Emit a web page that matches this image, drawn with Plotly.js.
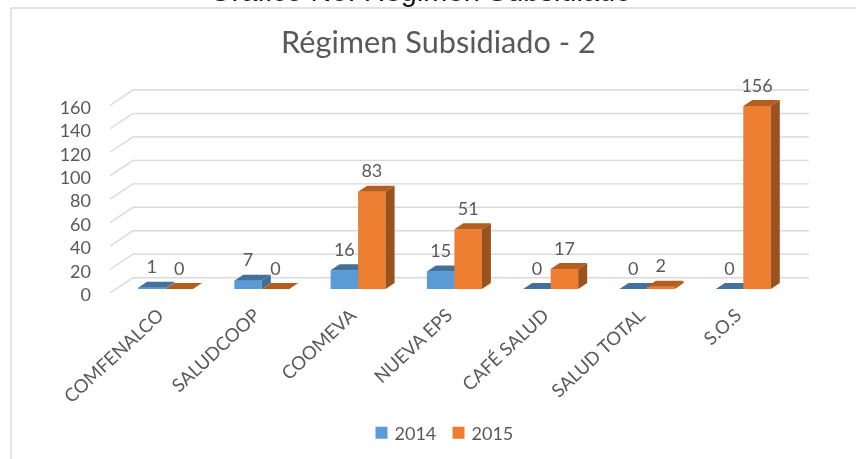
<!DOCTYPE html>
<html>
<head>
<meta charset="utf-8">
<script src="https://cdn.plot.ly/plotly-3.0.1.min.js"></script>
<style>html,body{margin:0;padding:0;background:#fff;overflow:hidden}#chart{width:856px;height:459px;filter:blur(0.4px)}</style>
</head>
<body>
<div id="chart"></div>
<script>
var categories = ['COMFENALCO','SALUDCOOP','COOMEVA','NUEVA EPS','CAFÉ SALUD','SALUD TOTAL','S.O.S'];
var values2014 = [1,7,16,15,0,0,0];
var values2015 = [0,0,83,51,17,2,156];
var yTicks = [0,20,40,60,80,100,120,140,160];
var chartTitle = 'Régimen Subsidiado - 2';
var pageHeading = 'Gráfico No. Régimen Subsidiado';

// Geometry of the faux-3D projection, in axis units
var pxX = 96.3, pxY = 1.173;
var W = 856, H = 459, mL = 110, mR = 47, mT = 85, mB = 164;
var xRange = [(mL-165.5)/pxX, (W-mR-165.5)/pxX];
var yRange = [-(H-mB-293)/pxY, (293-mT)/pxY];
var barW = 27.5/pxX, floor = 4/pxY;
var dX = 9/pxX, dY = 6/pxY;
var wallX = 23/pxX, wallY = 15.3/pxY;
var labelGap = 19/pxY;

var idx = categories.map(function(_,i){return i;});
var blue='#5b9bd5', blueTop='#41719c', blueSide='#3f6e97';
var orange='#ed7d31', orangeTop='#b55d1f', orangeSide='#9c521d';
var textC='#595959', font='Lato, "Open Sans", sans-serif';

function faces(vals, off, kind){
  var xs=[], ys=[];
  vals.forEach(function(v,i){
    var x0=i+off, x1=x0+barW, t=floor+v;
    if(kind==='side'){
      xs.push(x1,x1+dX,x1+dX,x1,x1,null);
      ys.push(floor,floor+dY,t+dY,t,floor,null);
    }else{
      xs.push(x0,x1,x1+dX,x0+dX,x0,null);
      ys.push(t,t,t+dY,t+dY,t,null);
    }
  });
  return {x:xs,y:ys};
}
function faceTrace(vals,off,kind,col,xa,ya){
  var f=faces(vals,off,kind);
  return {type:'scatter',mode:'lines',x:f.x,y:f.y,fill:'toself',fillcolor:col,
    line:{width:0,color:col},hoverinfo:'skip',showlegend:false,xaxis:xa,yaxis:ya,cliponaxis:false};
}
function barTrace(name,vals,off,col,xa,ya){
  return {type:'bar',name:name,x:idx,y:vals,base:floor,width:barW,offset:off,
    marker:{color:col,line:{width:0}},xaxis:xa,yaxis:ya,hoverinfo:'x+y',cliponaxis:false};
}
function labelTrace(vals,off){
  return {type:'scatter',mode:'text',x:idx.map(function(i){return i+off+barW/2;}),
    y:vals.map(function(v){return floor+v+labelGap;}),text:vals.map(String),
    textposition:'middle center',textfont:{family:font,size:18,color:textC},
    hoverinfo:'skip',showlegend:false,xaxis:'x2',yaxis:'y2',cliponaxis:false};
}
var data=[
  barTrace('2014',values2014,-barW,blue,'x','y'),
  faceTrace(values2014,-barW,'side',blueSide,'x','y'),
  faceTrace(values2014,-barW,'top',blueTop,'x','y'),
  barTrace('2015',values2015,0,orange,'x2','y2'),
  faceTrace(values2015,0,'side',orangeSide,'x2','y2'),
  faceTrace(values2015,0,'top',orangeTop,'x2','y2'),
  labelTrace(values2014,-barW),
  labelTrace(values2015,0)
];

var shapes=yTicks.map(function(v){
  return {type:'path',xref:'x',yref:'y',layer:'below',
    path:'M'+xRange[0]+','+v+' L'+(xRange[0]+wallX)+','+(v+wallY)+' L'+xRange[1]+','+(v+wallY),
    line:{color:'#d9d9d9',width:1.4}};
});
// outer frame of the chart
function px(x){return (x-mL)/(W-mL-mR);}
function py(y){return 1-(y-mT)/(H-mT-mB);}
shapes.push({type:'line',xref:'paper',yref:'paper',x0:px(11),x1:px(11),y0:py(8),y1:py(459),line:{color:'#d9d9d9',width:1.5}});
shapes.push({type:'line',xref:'paper',yref:'paper',x0:px(11),x1:px(856),y0:py(8),y1:py(8),line:{color:'#d9d9d9',width:1.5}});

var layout={
  width:W,height:H,margin:{l:mL,r:mR,t:mT,b:mB,pad:0},
  paper_bgcolor:'#fff',plot_bgcolor:'rgba(0,0,0,0)',showlegend:true,
  title:{text:chartTitle,x:438.5/W,xanchor:'center',y:1-42/H,yanchor:'middle',
    font:{family:font,size:30.7,color:textC}},
  xaxis:{range:xRange,tickmode:'array',tickvals:idx,ticktext:categories,tickangle:-43,
    showgrid:false,zeroline:false,showline:false,ticks:'',ticklabelstandoff:5,ticklabelshift:-7,
    tickfont:{family:font,size:18.5,color:textC}},
  yaxis:{range:yRange,tickmode:'array',tickvals:yTicks,showgrid:false,zeroline:false,showline:false,
    ticks:'',ticklabelstandoff:18,ticklabelshift:2,tickfont:{family:font,size:18,color:textC}},
  xaxis2:{range:xRange,overlaying:'x',anchor:'y2',visible:false},
  yaxis2:{range:yRange,overlaying:'y',anchor:'x2',visible:false},
  legend:{orientation:'h',xref:'container',yref:'container',x:438.5/W,xanchor:'center',y:1-433/H,yanchor:'middle',
    itemwidth:30,entrywidth:32,entrywidthmode:'pixels',font:{family:font,size:18,color:textC},traceorder:'normal'},
  shapes:shapes,
  annotations:[{xref:'paper',yref:'paper',x:px(420),y:py(-9),xanchor:'center',yanchor:'middle',
    text:pageHeading,showarrow:false,font:{family:'"Liberation Sans",Arial,sans-serif',size:29,color:'#111'}}]
};
Plotly.newPlot('chart',data,layout,{displayModeBar:false,staticPlot:true}).then(function(){
  document.querySelectorAll('.legendtext').forEach(function(t){t.setAttribute('x','33');});
});
</script>
</body>
</html>
